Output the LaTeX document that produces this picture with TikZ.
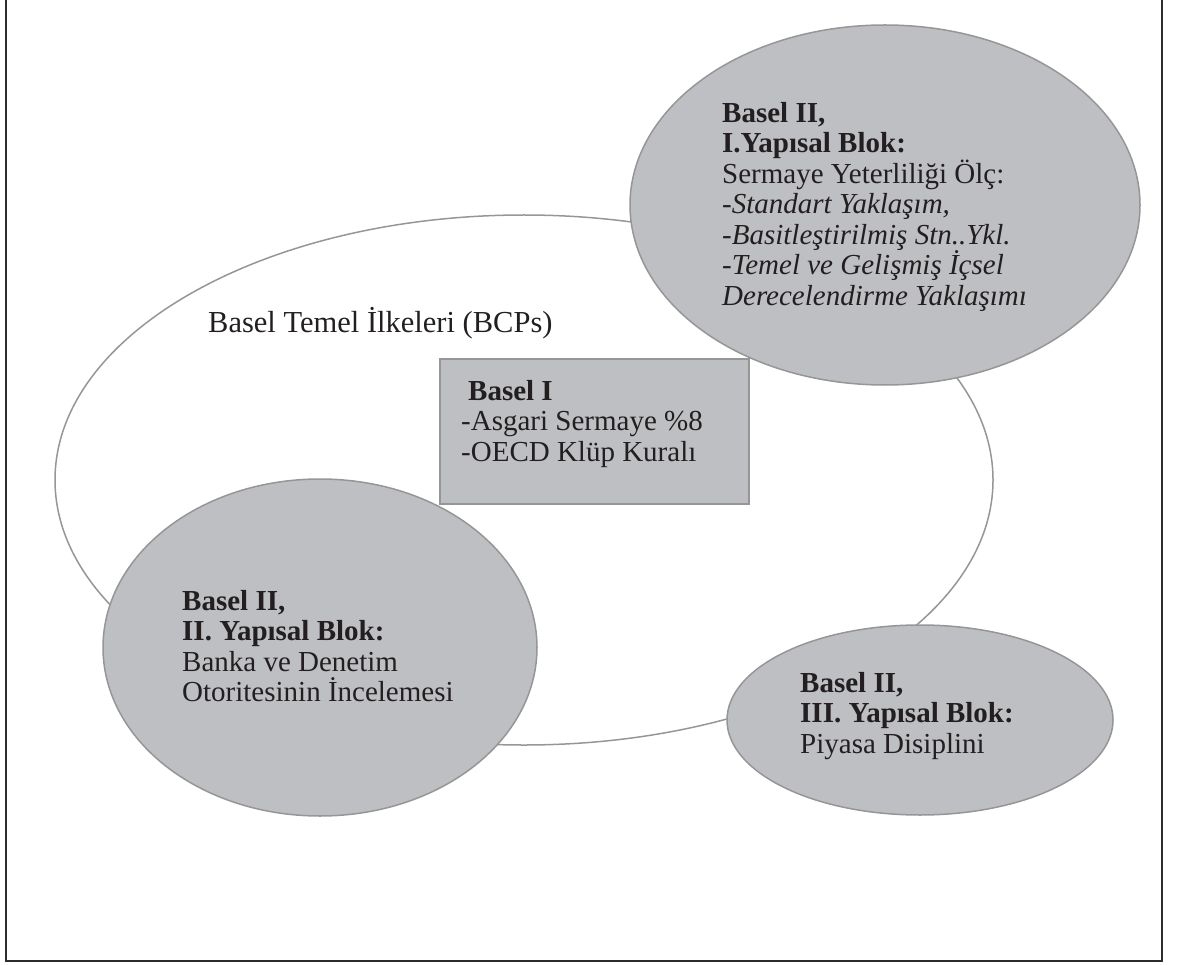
\documentclass[tikz,border=0pt]{standalone}
\usepackage{fontspec}
\setmainfont{Liberation Serif}
\usetikzlibrary{shapes.geometric}

\definecolor{blobfill}{RGB}{190,191,194}
\definecolor{blobline}{RGB}{150,150,150}
\definecolor{ink}{RGB}{35,31,32}
\definecolor{framecol}{RGB}{45,45,45}

\begin{document}
\begin{tikzpicture}[x=1pt,y=-1pt,
  blob/.style={ellipse, draw=blobline, line width=1.5pt, fill=blobfill, inner sep=0pt},
  ring/.style={ellipse, draw=blobline, line width=1.5pt, inner sep=0pt},
  boxed/.style={rectangle, draw=blobline, line width=1.5pt, fill=blobfill, inner sep=0pt, anchor=north west},
  txt/.style={anchor=north west, inner sep=0pt, align=left, text=ink,
              font=\fontsize{29}{30.5}\selectfont},
  title/.style={anchor=base west, inner sep=0pt, text=ink,
              font=\fontsize{30.5}{32}\selectfont}]
\useasboundingbox (0,0) rectangle (1177,965);

% outer frame (open at the top)
\draw[framecol, line width=2.5pt] (6,0) -- (6,961) -- (1162,961) -- (1162,0);

% Basel core principles ring
\node[ring, minimum width=938pt, minimum height=530pt] (bcp) at (524,480) {};
\node[title] (bcplabel) at (208,332) {Basel Temel İlkeleri (BCPs)};

% Basel I box
\node[boxed, minimum width=309pt, minimum height=145pt] (b1) at (439,358) {};
\node[txt] (b1text) at (461,380) {\hspace*{7pt}\textbf{Basel I}\\-Asgari Sermaye \%8\\-OECD Klüp Kuralı};

% Pillar I
\node[blob, minimum width=510pt, minimum height=360pt] (p1) at (885,205) {};
\node[txt] (p1text) at (722,102) {\textbf{Basel II,}\\\textbf{I.Yapısal Blok:}\\Sermaye Yeterliliği Ölç:\\
  \textit{-Standart Yaklaşım,}\\\textit{-Basitleştirilmiş Stn..Ykl.}\\\textit{-Temel ve Gelişmiş İçsel}\\\textit{Derecelendirme Yaklaşımı}};

% Pillar II
\node[blob, minimum width=434pt, minimum height=337pt] (p2) at (320,647.5) {};
\node[txt] (p2text) at (182,590) {\textbf{Basel II,}\\\textbf{II. Yapısal Blok:}\\Banka ve Denetim\\Otoritesinin İncelemesi};

% Pillar III
\node[blob, minimum width=386pt, minimum height=190pt] (p3) at (920,720) {};
\node[txt] (p3text) at (800,672) {\textbf{Basel II,}\\\textbf{III. Yapısal Blok:}\\Piyasa Disiplini};
\end{tikzpicture}
\end{document}
